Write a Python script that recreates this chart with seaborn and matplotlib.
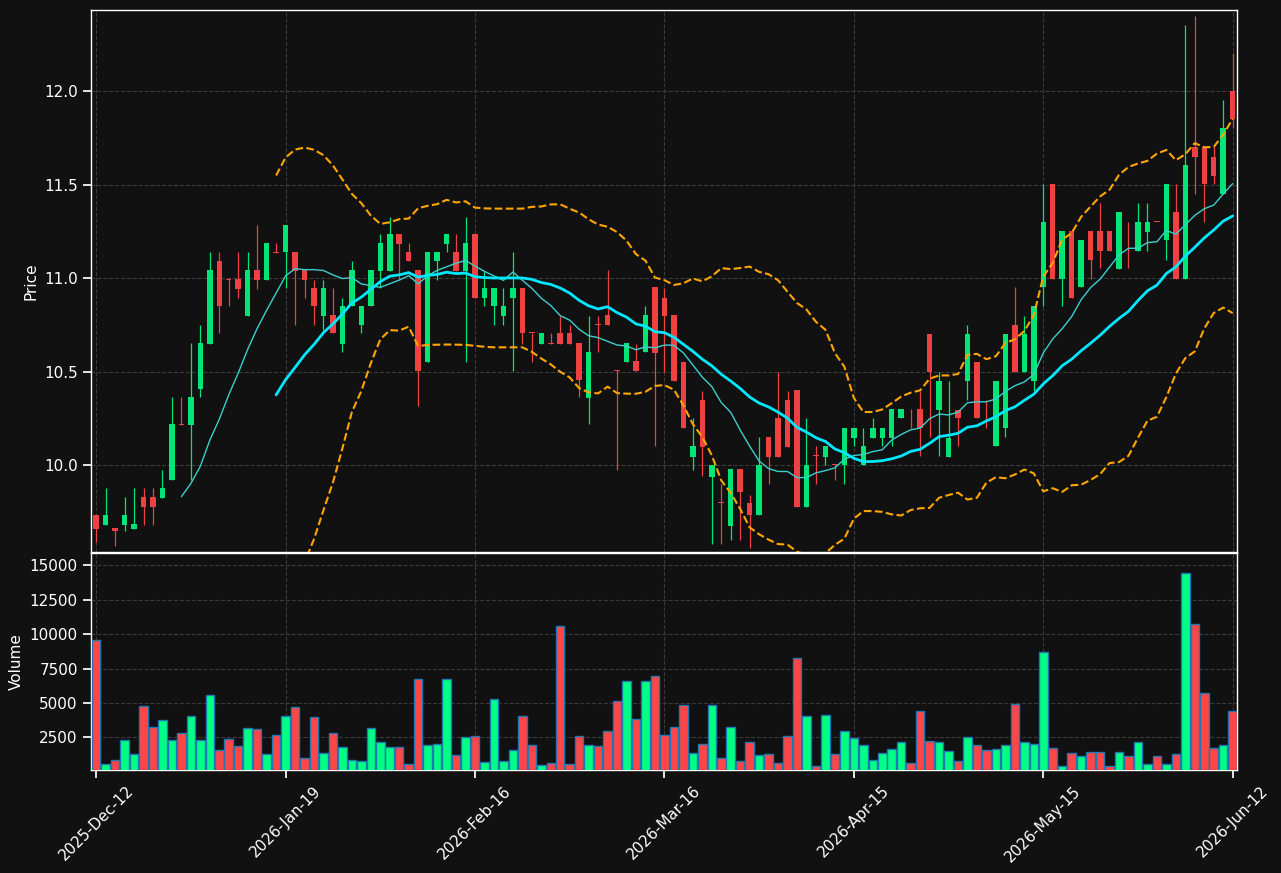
import numpy as np
import pandas as pd
import seaborn as sns
import matplotlib
matplotlib.use("Agg")
import matplotlib.pyplot as plt

# OHLC, one row per trading session (index 0..120)
open_ = [9.732, 9.680, 9.664, 9.680, 9.660, 9.827, 9.827, 9.823, 9.922, 10.220,
         10.216, 10.409, 10.649, 11.091, 10.996, 10.996, 10.797, 11.043, 10.991, 11.140,
         11.138, 11.138, 11.043, 10.946, 10.797, 10.801, 10.649, 10.848, 10.751, 10.848,
         11.039, 11.039, 11.234, 11.138, 11.043, 10.552, 11.089, 11.184, 11.138, 11.039,
         11.234, 10.894, 10.848, 10.797, 10.894, 10.946, 10.706, 10.649, 10.652, 10.704,
         10.704, 10.652, 10.361, 10.752, 10.801, 10.506, 10.552, 10.556, 10.602, 10.952,
         10.894, 10.801, 10.550, 10.045, 10.348, 9.937, 9.800, 9.673, 9.980, 9.797,
         9.734, 10.151, 10.249, 10.348, 10.401, 9.775, 10.050, 10.045, 10.002, 10.000,
         10.147, 10.000, 10.147, 10.147, 10.147, 10.249, 10.300, 10.297, 10.701, 10.296,
         10.045, 10.296, 10.448, 10.550, 10.300, 10.100, 10.197, 10.751, 10.500, 10.448,
         10.952, 11.502, 10.996, 11.251, 10.952, 11.251, 11.251, 11.251, 11.048, 11.203,
         11.147, 11.247, 11.300, 11.201, 11.353, 10.996, 11.699, 11.699, 11.649, 11.448,
         12.000]
high = [9.732, 9.875, 9.664, 9.827, 9.875, 9.875, 9.875, 9.972, 10.364, 10.364,
        10.652, 10.751, 11.138, 11.138, 11.000, 11.138, 11.138, 11.281, 11.188, 11.188,
        11.281, 11.138, 11.043, 10.991, 10.991, 10.946, 10.894, 11.091, 10.849, 11.043,
        11.234, 11.327, 11.234, 11.188, 11.043, 11.138, 11.138, 11.234, 11.234, 11.327,
        11.234, 11.039, 10.946, 10.946, 11.138, 10.946, 10.706, 10.704, 10.704, 10.797,
        10.751, 10.652, 10.797, 10.797, 11.043, 10.506, 10.652, 10.649, 10.849, 10.952,
        10.946, 10.801, 10.550, 10.249, 10.398, 10.000, 9.896, 9.980, 9.980, 9.840,
        10.151, 10.151, 10.500, 10.398, 10.401, 10.249, 10.100, 10.102, 10.002, 10.197,
        10.197, 10.197, 10.249, 10.197, 10.297, 10.297, 10.300, 10.398, 10.701, 10.500,
        10.448, 10.296, 10.751, 10.550, 10.348, 10.448, 10.701, 10.952, 10.797, 10.849,
        11.502, 11.502, 11.251, 11.251, 11.203, 11.251, 11.400, 11.251, 11.353, 11.299,
        11.400, 11.400, 11.300, 11.502, 11.502, 12.351, 12.400, 11.699, 11.699, 11.950,
        12.201]
low = [9.589, 9.680, 9.565, 9.645, 9.660, 9.682, 9.682, 9.823, 9.922, 10.215,
       9.922, 10.364, 10.649, 10.704, 10.849, 10.894, 10.797, 10.942, 10.991, 11.135,
       10.946, 10.751, 10.894, 10.751, 10.723, 10.704, 10.602, 10.848, 10.704, 10.848,
       10.946, 11.039, 10.991, 11.089, 10.314, 10.552, 10.991, 11.138, 11.039, 10.552,
       10.894, 10.849, 10.751, 10.751, 10.504, 10.649, 10.552, 10.649, 10.649, 10.649,
       10.649, 10.364, 10.217, 10.602, 10.751, 9.976, 10.552, 10.504, 10.602, 10.104,
       10.500, 10.448, 10.197, 9.976, 9.942, 9.580, 9.580, 9.599, 9.599, 9.556,
       9.734, 9.896, 10.045, 10.099, 9.775, 9.775, 9.896, 10.000, 9.920, 9.896,
       10.100, 10.000, 10.147, 10.100, 10.100, 10.249, 10.197, 10.048, 10.151, 10.048,
       10.045, 10.104, 10.348, 10.249, 10.197, 10.100, 10.151, 10.500, 10.500, 10.398,
       10.849, 10.996, 10.849, 10.894, 10.952, 10.996, 11.052, 11.147, 11.048, 11.052,
       11.147, 11.147, 11.299, 11.099, 10.996, 10.996, 11.448, 11.299, 11.502, 11.448,
       11.801]
close = [9.660, 9.732, 9.645, 9.732, 9.684, 9.775, 9.775, 9.875, 10.217, 10.215,
         10.364, 10.652, 11.043, 10.848, 10.990, 10.942, 11.043, 10.991, 11.188, 11.135,
         11.281, 11.039, 10.991, 10.848, 10.946, 10.704, 10.849, 11.043, 10.849, 11.043,
         11.188, 11.234, 11.184, 11.089, 10.504, 11.138, 11.138, 11.234, 11.039, 11.188,
         10.894, 10.946, 10.946, 10.849, 10.946, 10.704, 10.704, 10.704, 10.649, 10.649,
         10.649, 10.457, 10.602, 10.749, 10.751, 10.504, 10.652, 10.504, 10.801, 10.597,
         10.797, 10.448, 10.197, 10.102, 10.099, 10.000, 9.797, 9.980, 9.855, 9.734,
         10.000, 10.045, 10.045, 10.099, 9.775, 10.000, 10.048, 10.102, 10.000, 10.197,
         10.197, 10.102, 10.197, 10.197, 10.297, 10.297, 10.297, 10.197, 10.500, 10.448,
         10.147, 10.249, 10.701, 10.249, 10.297, 10.448, 10.701, 10.500, 10.701, 10.849,
         11.299, 10.996, 11.251, 10.894, 11.203, 11.099, 11.147, 11.147, 11.353, 11.201,
         11.299, 11.299, 11.299, 11.502, 10.996, 11.604, 11.649, 11.502, 11.548, 11.801,
         11.848]
volume = [9600, 590, 830, 2330, 1260, 4750, 3230, 3740, 2330, 2790,
          4030, 2330, 5550, 1560, 2360, 1850, 3150, 3080, 1260, 2650,
          4030, 4680, 970, 3950, 1340, 2790, 1770, 830, 760, 3150,
          2140, 1770, 1770, 540, 6720, 1920, 1990, 6720, 1190, 2500,
          2570, 680, 5260, 760, 1560, 4030, 1920, 470, 610, 10570,
          540, 2570, 1920, 1850, 2940, 5120, 6570, 3810, 6570, 6930,
          2650, 3230, 4830, 1340, 1990, 4830, 970, 3230, 760, 2140,
          1190, 1260, 610, 2570, 8240, 4030, 390, 4100, 1260, 2940,
          2430, 1920, 830, 1340, 1630, 2140, 610, 4390, 2210, 2140,
          1480, 760, 2500, 1920, 1560, 1630, 1920, 4900, 2140, 1990,
          8680, 1700, 390, 1340, 1120, 1410, 1410, 420, 1410, 1120,
          2140, 540, 1120, 540, 1260, 14420, 10710, 5700, 1700, 1920,
          4390]
tick_labels = ["2025-Dec-12", "2026-Jan-19", "2026-Feb-16", "2026-Mar-16",
               "2026-Apr-15", "2026-May-15", "2026-Jun-12"]

df = pd.DataFrame({"open": open_, "high": high, "low": low,
                   "close": close, "volume": volume})
df["idx"] = np.arange(len(df))
df["ma10"] = df["close"].rolling(10).mean()
df["ma20"] = df["close"].rolling(20).mean()
std20 = df["close"].rolling(20).std(ddof=0)
df["bb_up"] = df["ma20"] + 2 * std20
df["bb_lo"] = df["ma20"] - 2 * std20

up = df["close"] >= df["open"]
candle_col = np.where(up, "#00e676", "#ef4141")
vol_col = np.where(up, "#00ff85", "#ff4646")

bg = "#111111"
sns.set_theme(style="dark", rc={
    "figure.facecolor": bg,
    "axes.facecolor": bg,
    "axes.edgecolor": "white",
    "axes.linewidth": 1.0,
    "axes.labelcolor": "white",
    "text.color": "white",
    "xtick.color": "white",
    "ytick.color": "white",
    "xtick.bottom": True,
    "ytick.left": True,
    "xtick.labelsize": 11,
    "ytick.labelsize": 11,
    "axes.labelsize": 11,
    "grid.color": "#3a3a3a",
    "grid.linestyle": "--",
    "grid.linewidth": 0.8,
})
plt.rcParams["font.family"] = ["DejaVu Sans"]

fig = plt.figure(figsize=(12.81, 8.73), dpi=100)
ax1 = fig.add_axes([0.0710, 0.3677, 0.8946, 0.6208])
ax2 = fig.add_axes([0.0710, 0.1180, 0.8946, 0.2486], sharex=ax1)

# candles
body_h = np.maximum((df["close"] - df["open"]).abs(), 0.005)
body_b = np.minimum(df["open"], df["close"])
ax1.vlines(df["idx"], df["low"], df["high"], colors=candle_col, linewidth=0.9, zorder=2)
ax1.bar(df["idx"], body_h, bottom=body_b, width=0.58, color=candle_col,
        linewidth=0, zorder=3)

# moving averages / bollinger bands
sns.lineplot(data=df.dropna(subset=["ma10"]), x="idx", y="ma10", ax=ax1,
             color="#3ccfcf", linewidth=1.0, estimator=None, zorder=4)
sns.lineplot(data=df.dropna(subset=["ma20"]), x="idx", y="ma20", ax=ax1,
             color="#00e8ff", linewidth=2.0, estimator=None, zorder=4)
for col in ["bb_up", "bb_lo"]:
    sns.lineplot(data=df.dropna(subset=[col]), x="idx", y=col, ax=ax1,
                 color="#ffa500", linewidth=1.5, linestyle="--",
                 estimator=None, zorder=4)

ax1.set_xlim(-0.55, 120.45)
ax1.set_ylim(9.535, 12.433)
ax1.set_yticks([10.0, 10.5, 11.0, 11.5, 12.0])
ax1.set_yticklabels(["10.0", "10.5", "11.0", "11.5", "12.0"])
ax1.set_ylabel("Price")
ax1.set_xlabel("")
ax1.grid(True)
ax1.tick_params(axis="x", bottom=False, labelbottom=False)

# volume
ax2.bar(df["idx"], df["volume"], width=0.9, color=vol_col,
        edgecolor="#1f77b4", linewidth=1.0, zorder=3)
ax2.set_ylim(126, 15900)
ax2.set_yticks([2500, 5000, 7500, 10000, 12500, 15000])
ax2.set_ylabel("Volume")
ax2.grid(True)
ax2.set_xticks(np.arange(0, 121, 20))
ax2.set_xticklabels(tick_labels, rotation=45, ha="center")

for ax in (ax1, ax2):
    for s in ax.spines.values():
        s.set_color("white")

fig.savefig("out.png", dpi=100, facecolor=bg)
